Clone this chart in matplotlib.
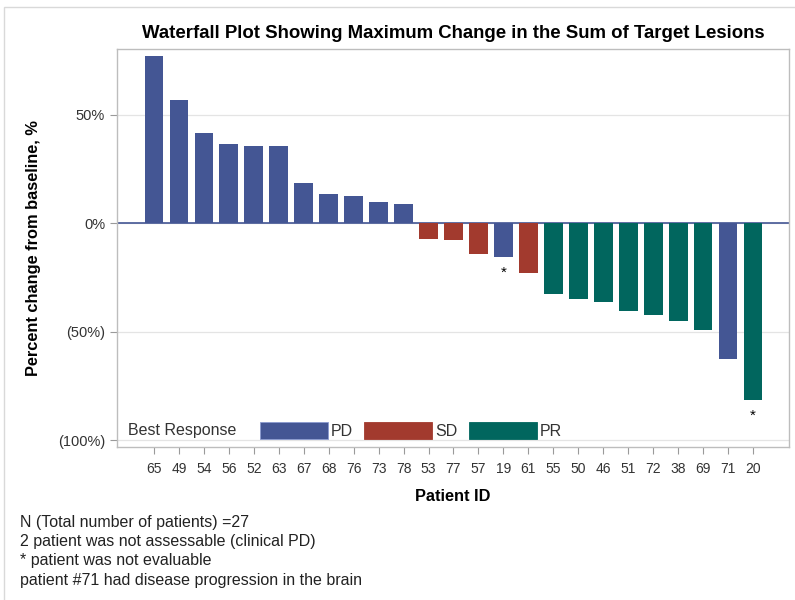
import matplotlib
matplotlib.use('Agg')
import matplotlib.pyplot as plt
from matplotlib.patches import Patch, Rectangle
from matplotlib.ticker import FuncFormatter

plt.rcParams['font.family'] = ['Liberation Sans', 'DejaVu Sans']

# data
patient_ids = ['65', '49', '54', '56', '52', '63', '67', '68', '76', '73', '78',
               '53', '77', '57', '19', '61', '55', '50', '46', '51', '72', '38',
               '69', '71', '20']
pct_change = [77.2, 56.8, 41.4, 36.3, 35.7, 35.7, 18.3, 13.4, 12.5, 9.8, 8.6,
              -7.4, -7.8, -14.3, -15.8, -23.2, -32.8, -35.2, -36.3, -40.5, -42.2,
              -45.1, -49.1, -62.8, -81.4]
best_response = ['PD'] * 11 + ['SD', 'SD', 'SD', 'PD', 'SD'] + ['PR'] * 7 + ['PD', 'PR']
not_evaluable = ['19', '20']

resp_order = ['PD', 'SD', 'PR']
resp_colors = {'PD': '#445694', 'SD': '#A23A2E', 'PR': '#01665E'}

footnotes = ['N (Total number of patients) =27',
             '2 patient was not assessable (clinical PD)',
             '* patient was not evaluable',
             'patient #71 had disease progression in the brain']

fig = plt.figure(figsize=(7.95, 6.0), dpi=100)
ax = fig.add_axes([117 / 795, 1 - 447 / 600, 672 / 795, 398 / 600])

x = list(range(len(patient_ids)))
colors = [resp_colors[r] for r in best_response]
ax.bar(x, pct_change, width=0.75, color=colors, zorder=3)

# asterisks under bars of non-evaluable patients
for i, pid in enumerate(patient_ids):
    if pid in not_evaluable:
        ax.text(i, pct_change[i] - 4, '*', ha='center', va='top', fontsize=11, zorder=4)

ax.axhline(0, color='#445694', linewidth=1.2, zorder=2)
ax.set_xlim(-1.48, len(patient_ids) - 1 + 1.44)
ax.set_ylim(-103.2, 80.2)
ax.set_yticks([50, 0, -50, -100])
ax.yaxis.set_major_formatter(FuncFormatter(
    lambda v, p: f'{int(v)}%' if v >= 0 else f'({int(-v)}%)'))
ax.yaxis.grid(True, color='#E4E4E4', linewidth=0.9, zorder=0)
ax.set_xticks(x)
ax.set_xticklabels(patient_ids)
ax.tick_params(axis='both', colors='#9A9A9A', labelcolor='#333333', labelsize=10,
               length=5, width=0.8)
ax.tick_params(axis='y', labelsize=10.5)
ax.tick_params(axis='x', pad=6)
for s in ax.spines.values():
    s.set_color('#BDBDBD')
    s.set_linewidth(1.0)

ax.set_title('Waterfall Plot Showing Maximum Change in the Sum of Target Lesions',
             fontsize=13.4, fontweight='bold', pad=8)
ax.set_xlabel('Patient ID', fontsize=11.8, fontweight='bold', labelpad=9)
ax.set_ylabel('Percent change from baseline, %', fontsize=11.8, fontweight='bold', labelpad=12)

# legend strip (white band hides the grid line behind it)
ax.add_patch(Rectangle((0.002, 0.008), (556 - 117) / 672, 0.07, transform=ax.transAxes,
                       facecolor='white', edgecolor='none', zorder=1))
ax.text((128 - 117) / 672, (447 - 431) / 398, 'Best Response', transform=ax.transAxes,
        fontsize=11.5, color='#333333', va='center', ha='left', zorder=5)
handles = [Patch(facecolor=resp_colors[r], edgecolor='#8A9AD0' if r == 'PD' else resp_colors[r],
                 linewidth=0.6) for r in resp_order]
leg = ax.legend(handles, resp_order, loc='lower left',
                bbox_to_anchor=((260 - 117) / 672, (447 - 439) / 398),
                ncol=3, frameon=False, fontsize=11.5, handlelength=4.25, handleheight=1.3,
                handletextpad=0.2, columnspacing=0.7, borderpad=0, borderaxespad=0)
for t in leg.get_texts():
    t.set_color('#333333')

# footnotes
for k, line in enumerate(footnotes):
    fig.text(20 / 795, 1 - (522 + 19.5 * k) / 600, line, fontsize=11.5, color='#222222',
             va='center', ha='left')

# light outer border
fig.patches.append(Rectangle((4 / 795, -0.05), 1.2, 1.05 - 7 / 600, transform=fig.transFigure,
                             fill=False, edgecolor='#D9D9D9', linewidth=1.0))

plt.savefig('out.png', dpi=100)
